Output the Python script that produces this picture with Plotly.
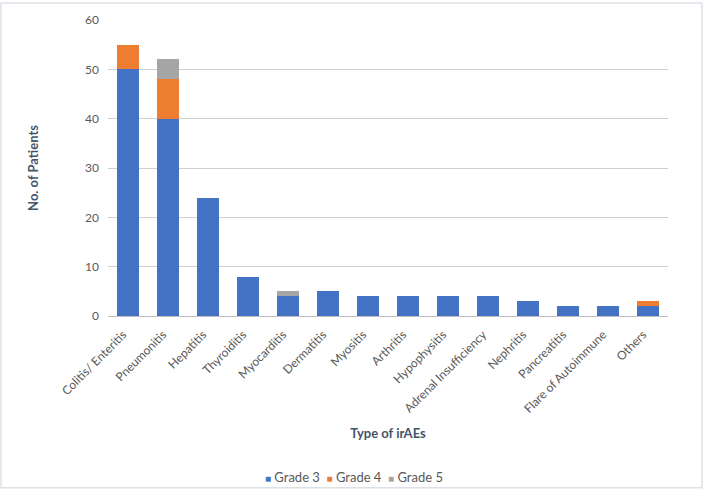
import plotly.graph_objects as go

categories = ["Colitis/ Enteritis", "Pneumonitis", "Hepatitis", "Thyroiditis", "Myocarditis",
              "Dermatitis", "Myositis", "Arthritis", "Hypophysitis", "Adrenal Insufficiency",
              "Nephritis", "Pancreatitis", "Flare of Autoimmune", "Others"]
grade3 = [50, 40, 24, 8, 4, 5, 4, 4, 4, 4, 3, 2, 2, 2]
grade4 = [5, 8, 0, 0, 0, 0, 0, 0, 0, 0, 0, 0, 0, 1]
grade5 = [0, 4, 0, 0, 1, 0, 0, 0, 0, 0, 0, 0, 0, 0]
y_ticks = [0, 10, 20, 30, 40, 50, 60]
series = [("Grade 3", grade3, "#4472C4"), ("Grade 4", grade4, "#ED7D31"), ("Grade 5", grade5, "#A5A5A5")]

font_fam = "Lato, 'Open Sans', sans-serif"
L, R, T, B = 108, 36, 18, 185
PW, PH = 704 - L - R, 501 - T - B

fig = go.Figure()
for name, vals, col in series:
    fig.add_trace(go.Bar(x=categories, y=vals, name=name, marker_color=col, width=0.55,
                         marker_line_width=0, showlegend=False))

legend_text = "  ".join(
    f"<span style='font-size:10px;color:{col}'>■</span> {name}" for name, _, col in series)

fig.update_layout(
    barmode="stack",
    width=704, height=501,
    paper_bgcolor="white", plot_bgcolor="white",
    margin=dict(l=L, r=R, t=T, b=B),
    font=dict(family=font_fam, color="#595959", size=12),
    xaxis=dict(tickangle=-45, tickfont=dict(size=12, color="#595959"), showline=True,
               linecolor="#BFBFBF", ticklabelshift=-5, ticklabelstandoff=6,
               title=dict(text="<b>Type of irAEs</b>", font=dict(size=13, color="#44546A"),
                          standoff=14)),
    yaxis=dict(range=[0, 60], tickvals=y_ticks, gridcolor="#D0D0D0", zeroline=False,
               tickfont=dict(size=12, color="#595959"), ticklabelstandoff=8,
               title=dict(text="<b>No. of Patients</b>", font=dict(size=13, color="#44546A"), standoff=43)),
    annotations=[dict(text=legend_text, xref="paper", yref="paper", x=(354 - L) / PW,
                      y=-(478 - (501 - B)) / PH, xanchor="center", yanchor="middle",
                      showarrow=False, font=dict(size=13, color="#595959"))],
    shapes=[dict(type="rect", xref="paper", yref="paper",
                 x0=(1 - L) / PW, x1=(702 - L) / PW,
                 y0=-(489 - (501 - B)) / PH, y1=1 + (T - 1) / PH,
                 line=dict(color="#DDE1E6", width=1.5))],
)
fig.write_html("out.html", config={"displayModeBar": False},
               post_script="document.body.style.margin='0';")
